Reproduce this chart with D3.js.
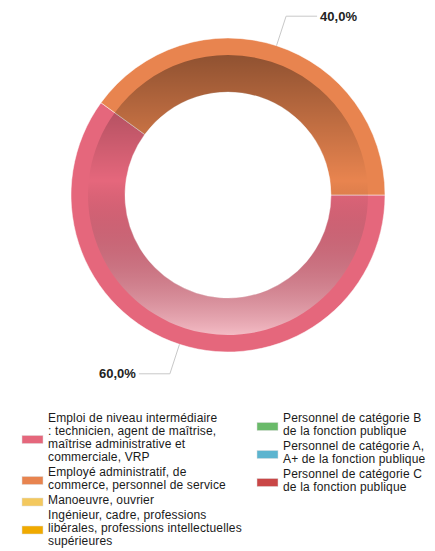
<!DOCTYPE html>
<html>
<head>
<meta charset="utf-8">
<script src="https://cdn.jsdelivr.net/npm/d3@7"></script>
<style>
  body { margin: 0; background: #fff; }
  text { font-family: "Liberation Sans", Arial, sans-serif; }
</style>
</head>
<body>
<div id="chart"></div>
<script>
// categories (legend order) with line breaks as in the legend
var categories = [
  "Emploi de niveau intermédiaire\n: technicien, agent de maîtrise,\nmaîtrise administrative et\ncommerciale, VRP",
  "Employé administratif, de\ncommerce, personnel de service",
  "Manoeuvre, ouvrier",
  "Ingénieur, cadre, professions\nlibérales, professions intellectuelles\nsupérieures",
  "Personnel de catégorie B\nde la fonction publique",
  "Personnel de catégorie A,\nA+ de la fonction publique",
  "Personnel de catégorie C\nde la fonction publique"
];
var values = [60, 40, 0, 0, 0, 0, 0];
var colors = ["#e5677c", "#e8844f", "#f3c85e", "#f0aa00", "#6aba6a", "#5cb4cf", "#c94646"];
var labels = ["60,0%", "40,0%"];

var width = 435, height = 551;
var cx = 228, cy = 195;
var outerR = 157, bandR = 140, innerR = 103;

var svg = d3.select("#chart")
  .append("svg")
    .attr("width", width)
    .attr("height", height);

// shading gradient for the inner band (coords relative to the donut centre)
var defs = svg.append("defs");
var grad = defs.append("linearGradient")
    .attr("id", "shade")
    .attr("gradientUnits", "userSpaceOnUse")
    .attr("x1", 0).attr("x2", 0)
    .attr("y1", -bandR).attr("y2", bandR);
grad.append("stop").attr("offset", 0).attr("stop-color", "#000").attr("stop-opacity", 0.38);
grad.append("stop").attr("offset", 0.45).attr("stop-color", "#000").attr("stop-opacity", 0);
grad.append("stop").attr("offset", 1).attr("stop-color", "#fff").attr("stop-opacity", 0.55);

var data = categories.map(function(c, i) { return {name: c, value: values[i], color: colors[i], i: i}; });

var pie = d3.pie()
  .sort(null)
  .value(function(d) { return d.value; })
  .startAngle(Math.PI / 2)
  .endAngle(Math.PI / 2 + 2 * Math.PI);

var arcs = pie(data).filter(function(d) { return d.data.value > 0; });

var outerArc = d3.arc().innerRadius(innerR).outerRadius(outerR);
var bandArc = d3.arc().innerRadius(innerR).outerRadius(bandR);

var g = svg.append("g").attr("transform", "translate(" + cx + "," + cy + ")");

g.selectAll("path.slice")
  .data(arcs)
  .enter().append("path")
    .attr("class", "slice")
    .attr("d", outerArc)
    .attr("fill", function(d) { return d.data.color; })
    .attr("stroke", "#fff")
    .attr("stroke-width", 0.5);

g.selectAll("path.band")
  .data(arcs)
  .enter().append("path")
    .attr("class", "band")
    .attr("d", bandArc)
    .attr("fill", "url(#shade)");

// leader lines + labels
arcs.forEach(function(d, k) {
  var a = (d.startAngle + d.endAngle) / 2;
  var sx = Math.sin(a), sy = -Math.cos(a);
  var p0 = [outerR * sx, outerR * sy];
  var p1 = [188 * sx, 188 * sy];
  var dir = sx >= 0 ? 1 : -1;
  var p2 = [p1[0] + dir * 31, p1[1]];
  g.append("polyline")
    .attr("points", [p0, p1, p2].map(function(p) { return p.join(","); }).join(" "))
    .attr("fill", "none")
    .attr("stroke", "#c8c8c8")
    .attr("stroke-width", 1);
  g.append("text")
    .attr("x", p2[0] + dir * 3)
    .attr("y", p2[1])
    .attr("dy", "0.35em")
    .attr("text-anchor", dir > 0 ? "start" : "end")
    .style("font-size", "13px")
    .style("font-weight", "bold")
    .style("fill", "#222")
    .text(labels[d.data.i]);
});

// legend
var lineH = 13, gap = 2;
var columns = [
  {items: [0, 1, 2, 3], sx: 22, tx: 48},
  {items: [4, 5, 6], sx: 257, tx: 283}
];
var legend = svg.append("g");
columns.forEach(function(col) {
  var y = 418;
  col.items.forEach(function(i) {
    var lines = categories[i].split("\n");
    var mid = y + (lines.length - 1) * lineH / 2;
    legend.append("rect")
      .attr("x", col.sx)
      .attr("y", mid - 2)
      .attr("width", 21)
      .attr("height", 8)
      .attr("fill", colors[i])
      .attr("stroke", "#ddd")
      .attr("stroke-width", 0.5);
    var t = legend.append("text")
      .attr("x", col.tx)
      .style("font-size", "12px")
      .style("letter-spacing", "0.15px")
      .style("fill", "#1a1a1a");
    lines.forEach(function(l, j) {
      t.append("tspan")
        .attr("x", col.tx)
        .attr("y", y + j * lineH)
        .attr("dy", "0.35em")
        .text(l);
    });
    y += lines.length * lineH + gap;
  });
});
</script>
</body>
</html>
